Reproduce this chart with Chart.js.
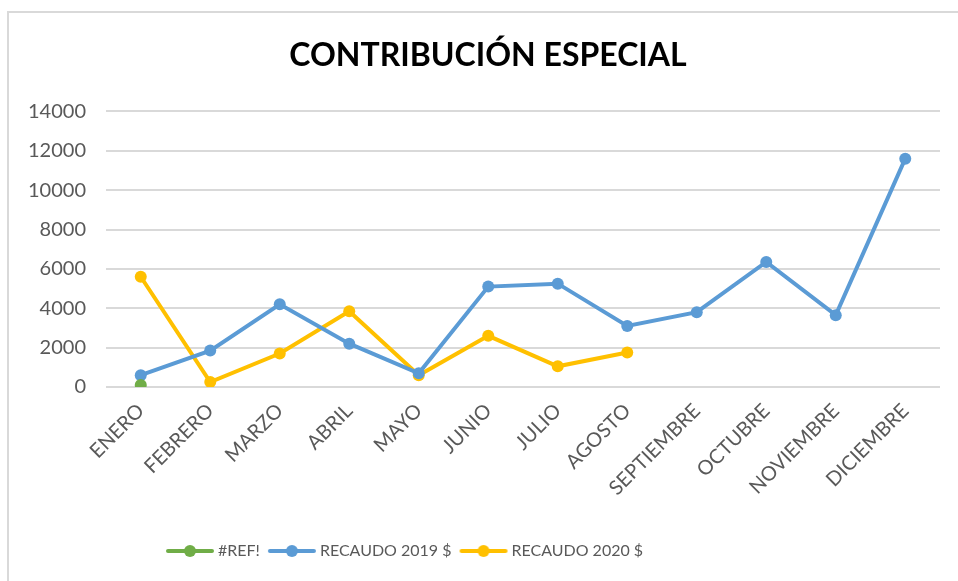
<!DOCTYPE html>
<html>
<head>
<meta charset="utf-8">
<script src="https://cdn.jsdelivr.net/npm/chart.js@4.4.1/dist/chart.umd.min.js"></script>
<style>
  html, body { margin: 0; padding: 0; background: #fff; }
  #wrap { position: relative; width: 958px; height: 581px; overflow: hidden; }
  #frame { position: absolute; left: 7px; top: 11px; width: 1000px; height: 600px;
           border-left: 2px solid #d9d9d9; border-top: 2px solid #d9d9d9; }
  #myChart { position: absolute; left: 0; top: 0; }
</style>
</head>
<body>
<div id="wrap">
  <div id="frame"></div>
  <canvas id="myChart" width="958" height="581"></canvas>
</div>
<script>
// Datos del gráfico
const meses = ["ENERO", "FEBRERO", "MARZO", "ABRIL", "MAYO", "JUNIO", "JULIO",
  "AGOSTO", "SEPTIEMBRE", "OCTUBRE", "NOVIEMBRE", "DICIEMBRE"];
const ref = [100, null, null, null, null, null, null, null, null, null, null, null];
const recaudo2019 = [600, 1850, 4200, 2200, 700, 5100, 5250, 3100, 3800, 6350, 3650, 11600];
const recaudo2020 = [5600, 250, 1700, 3850, 600, 2600, 1050, 1750, null, null, null, null];
const ticksY = [0, 2000, 4000, 6000, 8000, 10000, 12000, 14000];

const gris = "#595959";

// símbolo de la leyenda: línea con punto
function simbolo(color) {
  const c = document.createElement("canvas");
  c.width = 50;
  c.height = 14;
  const g = c.getContext("2d");
  g.strokeStyle = color;
  g.lineWidth = 4;
  g.lineCap = "round";
  g.beginPath();
  g.moveTo(3, 7);
  g.lineTo(47, 7);
  g.stroke();
  g.fillStyle = color;
  g.beginPath();
  g.arc(25, 7, 6, 0, Math.PI * 2);
  g.fill();
  return c;
}

function serie(label, data, color) {
  return {
    label: label,
    data: data,
    borderColor: color,
    backgroundColor: color,
    borderWidth: 4,
    pointRadius: 6,
    pointHoverRadius: 6,
    pointBorderWidth: 0,
    pointStyle: "circle",
    legendSymbol: simbolo(color),
    tension: 0,
    spanGaps: false,
  };
}

// mover leyenda y título como en el original
const mover = {
  id: "mover",
  afterLayout(chart) {
    const l = chart.legend;
    const w = l.right - l.left;
    l.left = 158;
    l.right = 158 + w;
    const t = chart.titleBlock;
    t.left += 13;
    t.right += 13;
  },
};

new Chart(document.getElementById("myChart"), {
  type: "line",
  data: {
    labels: meses,
    datasets: [
      serie("#REF!", ref, "#70ad47"),
      serie("RECAUDO 2019 $", recaudo2019, "#5b9bd5"),
      serie("RECAUDO 2020 $", recaudo2020, "#ffc000"),
    ],
  },
  plugins: [mover],
  options: {
    responsive: false,
    animation: false,
    layout: { padding: { left: 10, right: 18, top: 0, bottom: 12 } },
    plugins: {
      title: {
        display: true,
        text: "CONTRIBUCIÓN ESPECIAL",
        color: "#000",
        font: { family: "Lato", size: 32, weight: "bold" },
        padding: { top: 36, bottom: 37 },
      },
      legend: {
        position: "bottom",
        align: "start",
        labels: {
          usePointStyle: true,
          pointStyleWidth: 40,
          padding: 12,
          color: gris,
          font: { family: "Lato", size: 16 },
          generateLabels(chart) {
            return chart.data.datasets.map((ds, i) => ({
              text: ds.label,
              fontColor: gris,
              pointStyle: ds.legendSymbol,
              datasetIndex: i,
              lineWidth: 0,
              strokeStyle: "transparent",
              fillStyle: ds.borderColor,
            }));
          },
        },
      },
      tooltip: { enabled: false },
    },
    scales: {
      x: {
        offset: true,
        grid: { display: false },
        border: { display: false },
        ticks: {
          color: gris,
          font: { family: "Lato", size: 20 },
          minRotation: 45,
          maxRotation: 45,
          padding: 4,
        },
        afterFit(scale) { scale.height = 144; },
      },
      y: {
        min: 0,
        max: 14000,
        afterBuildTicks(scale) { scale.ticks = ticksY.map(v => ({ value: v })); },
        grid: { color: "#d9d9d9", lineWidth: 2, drawTicks: false },
        border: { display: false },
        ticks: {
          color: gris,
          font: { family: "Lato", size: 20 },
          padding: 20,
          callback: v => String(v),
        },
        afterFit(scale) { scale.width = 96; },
      },
    },
  },
});
</script>
</body>
</html>
